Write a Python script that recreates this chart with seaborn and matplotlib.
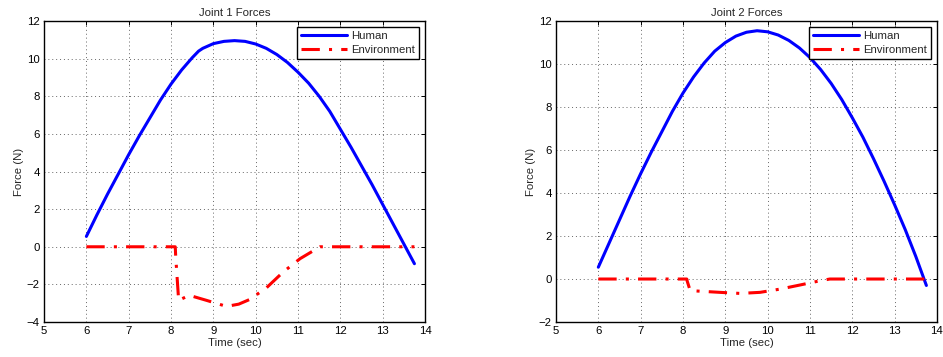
import matplotlib
matplotlib.use("Agg")
import matplotlib.pyplot as plt
import seaborn as sns
import pandas as pd

# Joint 1
t1_h = [6.0, 6.25, 6.5, 6.75, 7.0, 7.25, 7.5, 7.75, 8.0, 8.25, 8.5, 8.65, 8.75, 9.0,
        9.25, 9.5, 9.75, 10.0, 10.25, 10.5, 10.75, 11.0, 11.25, 11.5, 11.75, 12.0,
        12.25, 12.5, 12.75, 13.0, 13.25, 13.5, 13.75]
j1_human = [0.55, 1.7, 2.8, 3.85, 4.9, 5.9, 6.85, 7.8, 8.65, 9.4, 10.05, 10.4, 10.55, 10.8,
            10.92, 10.96, 10.92, 10.78, 10.55, 10.22, 9.8, 9.28, 8.7, 8.0, 7.2, 6.25,
            5.3, 4.3, 3.3, 2.25, 1.2, 0.15, -0.9]
t1_e = [6.0, 8.1, 8.11, 8.18, 8.43, 8.84, 9.31, 9.6, 9.86, 10.26, 10.65, 11.05, 11.52, 13.75]
j1_env = [0.0, 0.0, -0.5, -2.85, -2.58, -2.85, -3.17, -3.05, -2.8, -2.17, -1.34, -0.63, 0.0, 0.0]

# Joint 2
t2_h = [6.0, 6.25, 6.5, 6.75, 7.0, 7.25, 7.5, 7.75, 8.0, 8.25, 8.5, 8.75, 9.0, 9.25,
        9.5, 9.75, 10.0, 10.25, 10.5, 10.75, 11.0, 11.25, 11.5, 11.75, 12.0, 12.25,
        12.5, 12.75, 13.0, 13.25, 13.5, 13.75]
j2_human = [0.55, 1.65, 2.75, 3.85, 4.9, 5.9, 6.85, 7.8, 8.65, 9.4, 10.05, 10.6, 11.0, 11.3,
            11.48, 11.55, 11.5, 11.35, 11.1, 10.75, 10.3, 9.75, 9.1, 8.35, 7.5, 6.6,
            5.6, 4.55, 3.45, 2.3, 1.05, -0.3]
t2_e = [6.0, 8.09, 8.1, 8.17, 8.87, 9.35, 9.82, 10.29, 10.76, 11.24, 11.47, 13.75]
j2_env = [0.0, 0.0, -0.1, -0.54, -0.62, -0.67, -0.62, -0.47, -0.28, -0.08, 0.0, 0.0]

titles = ["Joint 1 Forces", "Joint 2 Forces"]
ylims = [(-4, 12), (-2, 12)]

sns.set_style("white")
plt.rcParams['font.family'] = ['Liberation Sans', 'DejaVu Sans']
FS = 8.2
plt.rcParams['font.size'] = FS

fig = plt.figure(figsize=(9.43, 3.57), dpi=100)
ax1 = fig.add_axes([0.0467, 0.098, 0.404, 0.843])
ax2 = fig.add_axes([0.5896, 0.098, 0.404, 0.843])

data = [(t1_h, j1_human, t1_e, j1_env), (t2_h, j2_human, t2_e, j2_env)]
for ax, (th, h, te, e), title, yl in zip([ax1, ax2], data, titles, ylims):
    sns.lineplot(x=th, y=h, ax=ax, color='#0000ff', lw=2.2, label='Human', sort=False)
    sns.lineplot(x=te, y=e, ax=ax, color='#ff0000', lw=2.2, label='Environment', sort=False)
    ax.lines[1].set_dashes([6, 3, 1, 3])
    ax.set_xlim(5, 14)
    ax.set_ylim(*yl)
    ax.set_xticks(range(5, 15))
    ax.set_yticks(range(yl[0], 13, 2))
    ax.set_yticklabels([str(v).replace('-', '\u2212') for v in range(yl[0], 13, 2)])
    ax.grid(True, linestyle=(0, (1, 3)), color='#666666', linewidth=0.7)
    ax.tick_params(direction='in', top=True, right=True, length=3, width=0.7,
                   labelsize=FS, pad=3, colors='black')
    for s in ax.spines.values():
        s.set_color('black')
        s.set_linewidth(1.0)
        s.set_visible(True)
    ax.set_title(title, fontsize=FS, pad=4)
    ax.set_xlabel('Time (sec)', fontsize=FS, labelpad=1)
    ax.set_ylabel('Force (N)', fontsize=FS, labelpad=2)
    leg = ax.legend(loc='upper right', fontsize=FS, frameon=True, fancybox=False,
                    edgecolor='black', framealpha=1, handlelength=4.0,
                    borderpad=0.35, labelspacing=0.35, handletextpad=0.4,
                    borderaxespad=0.5)
    leg.get_frame().set_linewidth(1.0)

fig.savefig('out.png', dpi=100)
